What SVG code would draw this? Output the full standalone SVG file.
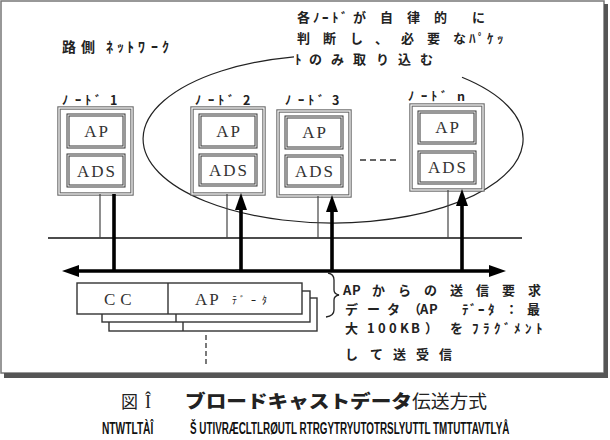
<svg xmlns="http://www.w3.org/2000/svg" width="610" height="440" viewBox="0 0 610 440">
<style>
.jp{font-family:"Noto Sans CJK JP","Noto Sans",sans-serif;fill:#222}
.t13{font-size:13px;font-weight:bold}
.lbl{font-size:12.5px;font-weight:bold}
.box{font-family:"Liberation Serif",serif;font-size:17px;fill:#333;letter-spacing:2px;text-anchor:middle}
.ob{fill:#fff;stroke:#666;stroke-width:3.4}
.obi{fill:none;stroke:#fff;stroke-width:1.2}
.ib{fill:#fff;stroke:#333;stroke-width:3}
.ibi{fill:none;stroke:#fff;stroke-width:1}
.thin{stroke:#444;stroke-width:1.2;fill:none}
.thick{stroke:#000;stroke-width:3.6;fill:none}
.pk{fill:#fff;stroke:#333;stroke-width:1.4}
.garb{font-family:"Liberation Sans",sans-serif;font-size:17px;font-weight:bold;fill:#111}
</style>
<defs>
<marker id="ah" viewBox="0 0 17 12" refX="8" refY="6" markerWidth="17" markerHeight="12" markerUnits="userSpaceOnUse" orient="auto-start-reverse">
<path d="M0,0 L17,6 L0,12 z" fill="#000"/>
</marker>
</defs>
<rect width="610" height="440" fill="#fff"/>
<g id="frame">
<rect x="1" y="1" width="603" height="372" fill="none" stroke="#777" stroke-width="1.5"/>
<rect x="604" y="4" width="4" height="374" fill="#555"/>
<rect x="4" y="373" width="604" height="5" fill="#555"/>
</g>
<path id="group-ellipse" d="M462,77.3 A190,84 0 1 1 294,56.8" fill="none" stroke="#222" stroke-width="1.2"/>
<g id="title">
<text class="jp" font-size="14" font-weight="bold" x="62 81 106 117 127 138 151 162" y="52">路側ﾈｯﾄﾜｰｸ</text>
</g>
<g id="note-top" class="jp t13">
<text x="297 313 322 332 341 353 380 407 434 472" y="22">各ﾉｰﾄﾞが自律的に</text>
<text x="297 323 350 375 401 427 453 469 478 487 497" y="43">判断し、必要なﾊﾟｹｯ</text>
<text x="295 309 331 353 376 398 420" y="64">ﾄのみ取り込む</text>
</g>
<g id="network-line">
<line x1="48" y1="238" x2="522" y2="238" stroke="#111" stroke-width="1.3"/>
</g>
<g id="node1">
<text class="jp lbl" x="62 75 85 95 110" y="105">ﾉｰﾄﾞ1</text>
<rect class="ob" x="59" y="108" width="73" height="86"/><rect class="obi" x="59" y="108" width="73" height="86"/>
<rect class="ib" x="68" y="115" width="56" height="32"/><rect class="ibi" x="68" y="115" width="56" height="32"/>
<rect class="ib" x="68" y="155" width="56" height="31"/><rect class="ibi" x="68" y="155" width="56" height="31"/>
<text class="box" x="97" y="137">AP</text>
<text class="box" x="97" y="177">ADS</text>
</g>
<g id="node2">
<text class="jp lbl" x="195 208 218 228 243" y="105">ﾉｰﾄﾞ2</text>
<rect class="ob" x="192" y="108" width="72" height="86"/><rect class="obi" x="192" y="108" width="72" height="86"/>
<rect class="ib" x="200" y="115" width="56" height="32"/><rect class="ibi" x="200" y="115" width="56" height="32"/>
<rect class="ib" x="200" y="155" width="56" height="30"/><rect class="ibi" x="200" y="155" width="56" height="30"/>
<text class="box" x="229" y="137">AP</text>
<text class="box" x="229" y="176">ADS</text>
</g>
<g id="node3">
<text class="jp lbl" x="285 298 308 318 332" y="105">ﾉｰﾄﾞ3</text>
<rect class="ob" x="278" y="111" width="72" height="85"/><rect class="obi" x="278" y="111" width="72" height="85"/>
<rect class="ib" x="286" y="117" width="56" height="31"/><rect class="ibi" x="286" y="117" width="56" height="31"/>
<rect class="ib" x="286" y="156" width="56" height="30"/><rect class="ibi" x="286" y="156" width="56" height="30"/>
<text class="box" x="315" y="138">AP</text>
<text class="box" x="315" y="177">ADS</text>
</g>
<g id="dots">
<line x1="360" y1="160" x2="397" y2="160" stroke="#333" stroke-width="1.3" stroke-dasharray="6,4"/>
</g>
<g id="noden">
<text class="jp lbl" x="408 421 431 441 457" y="101">ﾉｰﾄﾞn</text>
<rect class="ob" x="411" y="105" width="72" height="85"/><rect class="obi" x="411" y="105" width="72" height="85"/>
<rect class="ib" x="419" y="112" width="56" height="31"/><rect class="ibi" x="419" y="112" width="56" height="31"/>
<rect class="ib" x="419" y="152" width="56" height="31"/><rect class="ibi" x="419" y="152" width="56" height="31"/>
<text class="box" x="448" y="133">AP</text>
<text class="box" x="448" y="173">ADS</text>
</g>
<g id="connectors">
<line class="thin" x1="100" y1="194" x2="100" y2="238"/>
<line class="thin" x1="227" y1="194" x2="227" y2="238"/>
<line class="thin" x1="318" y1="196" x2="318" y2="238"/>
<line class="thin" x1="448" y1="190" x2="448" y2="238"/>
<line class="thick" x1="114" y1="194" x2="114" y2="271"/>
<line class="thick" x1="241" y1="271" x2="241" y2="202" marker-end="url(#ah)"/>
<line class="thick" x1="332" y1="271" x2="332" y2="204" marker-end="url(#ah)"/>
<line class="thick" x1="462" y1="271" x2="462" y2="198" marker-end="url(#ah)"/>
<line class="thick" x1="71" y1="271" x2="497" y2="271" marker-start="url(#ah)" marker-end="url(#ah)"/>
<line x1="206" y1="335" x2="206" y2="367" stroke="#333" stroke-width="1.3" stroke-dasharray="5,3"/>
<path d="M328,273 Q334,274 334,280 L334,290 Q334,294 339,295 Q334,296 334,300 L334,310 Q334,316 326,317" fill="none" stroke="#222" stroke-width="1.3"/>
</g>
<g id="packet">
<rect class="pk" x="109" y="298" width="208" height="33"/>
<line class="pk" x1="183" y1="298" x2="183" y2="331"/>
<rect class="pk" x="102" y="291" width="208" height="31"/>
<line class="pk" x1="176" y1="291" x2="176" y2="322"/>
<rect class="pk" x="77" y="283" width="225" height="31"/>
<line class="pk" x1="168" y1="283" x2="168" y2="314"/>
<text font-family="Liberation Serif,serif" font-size="17" fill="#333" letter-spacing="5" x="104" y="305">CC</text>
<text font-family="Liberation Serif,serif" font-size="17" fill="#333" letter-spacing="2" x="195" y="305">AP</text>
<text class="jp" font-size="10" x="232 240 251 262" y="304">ﾃﾞｰﾀ</text>
</g>
<g id="note-bottom" class="jp t13">
<text x="343 352 372 398 424 450 476 502 528" y="295">APからの送信要求</text>
<text x="345 367 387 408 420 429 462 470 478 488 505 527" y="314">データ（APﾃﾞｰﾀ：最</text>
<text x="345 367 378 389 400 411 425 450 472 483 494 504 514 525 536" y="333">大100KB）をﾌﾗｸﾞﾒﾝﾄ</text>
<text x="345 370 393 416 439" y="359">して送受信</text>
</g>
<g id="caption">
<text class="jp" font-size="17" x="121" y="408">図</text>
<text font-family="Liberation Serif,serif" font-size="18" fill="#222" x="145" y="408">Î</text>
<text class="jp" font-size="18" font-weight="900" fill="#000" x="185" y="408" textLength="227" lengthAdjust="spacingAndGlyphs">ブロードキャストデータ</text>
<text class="jp" font-size="18" x="412" y="408" textLength="75" lengthAdjust="spacingAndGlyphs">伝送方式</text>
<text class="garb" transform="translate(102,434) scale(0.6,1)" x="0" y="0">NTWTLTÀÎ</text>
<text class="garb" transform="translate(190,434) scale(0.58,1)" x="0" y="0">Š UTIVRÆCLTLRØUTL RTRGYTRYUTOTRSLYUTTL  TMTUTTAVTLYÅ</text>
</g>
</svg>
